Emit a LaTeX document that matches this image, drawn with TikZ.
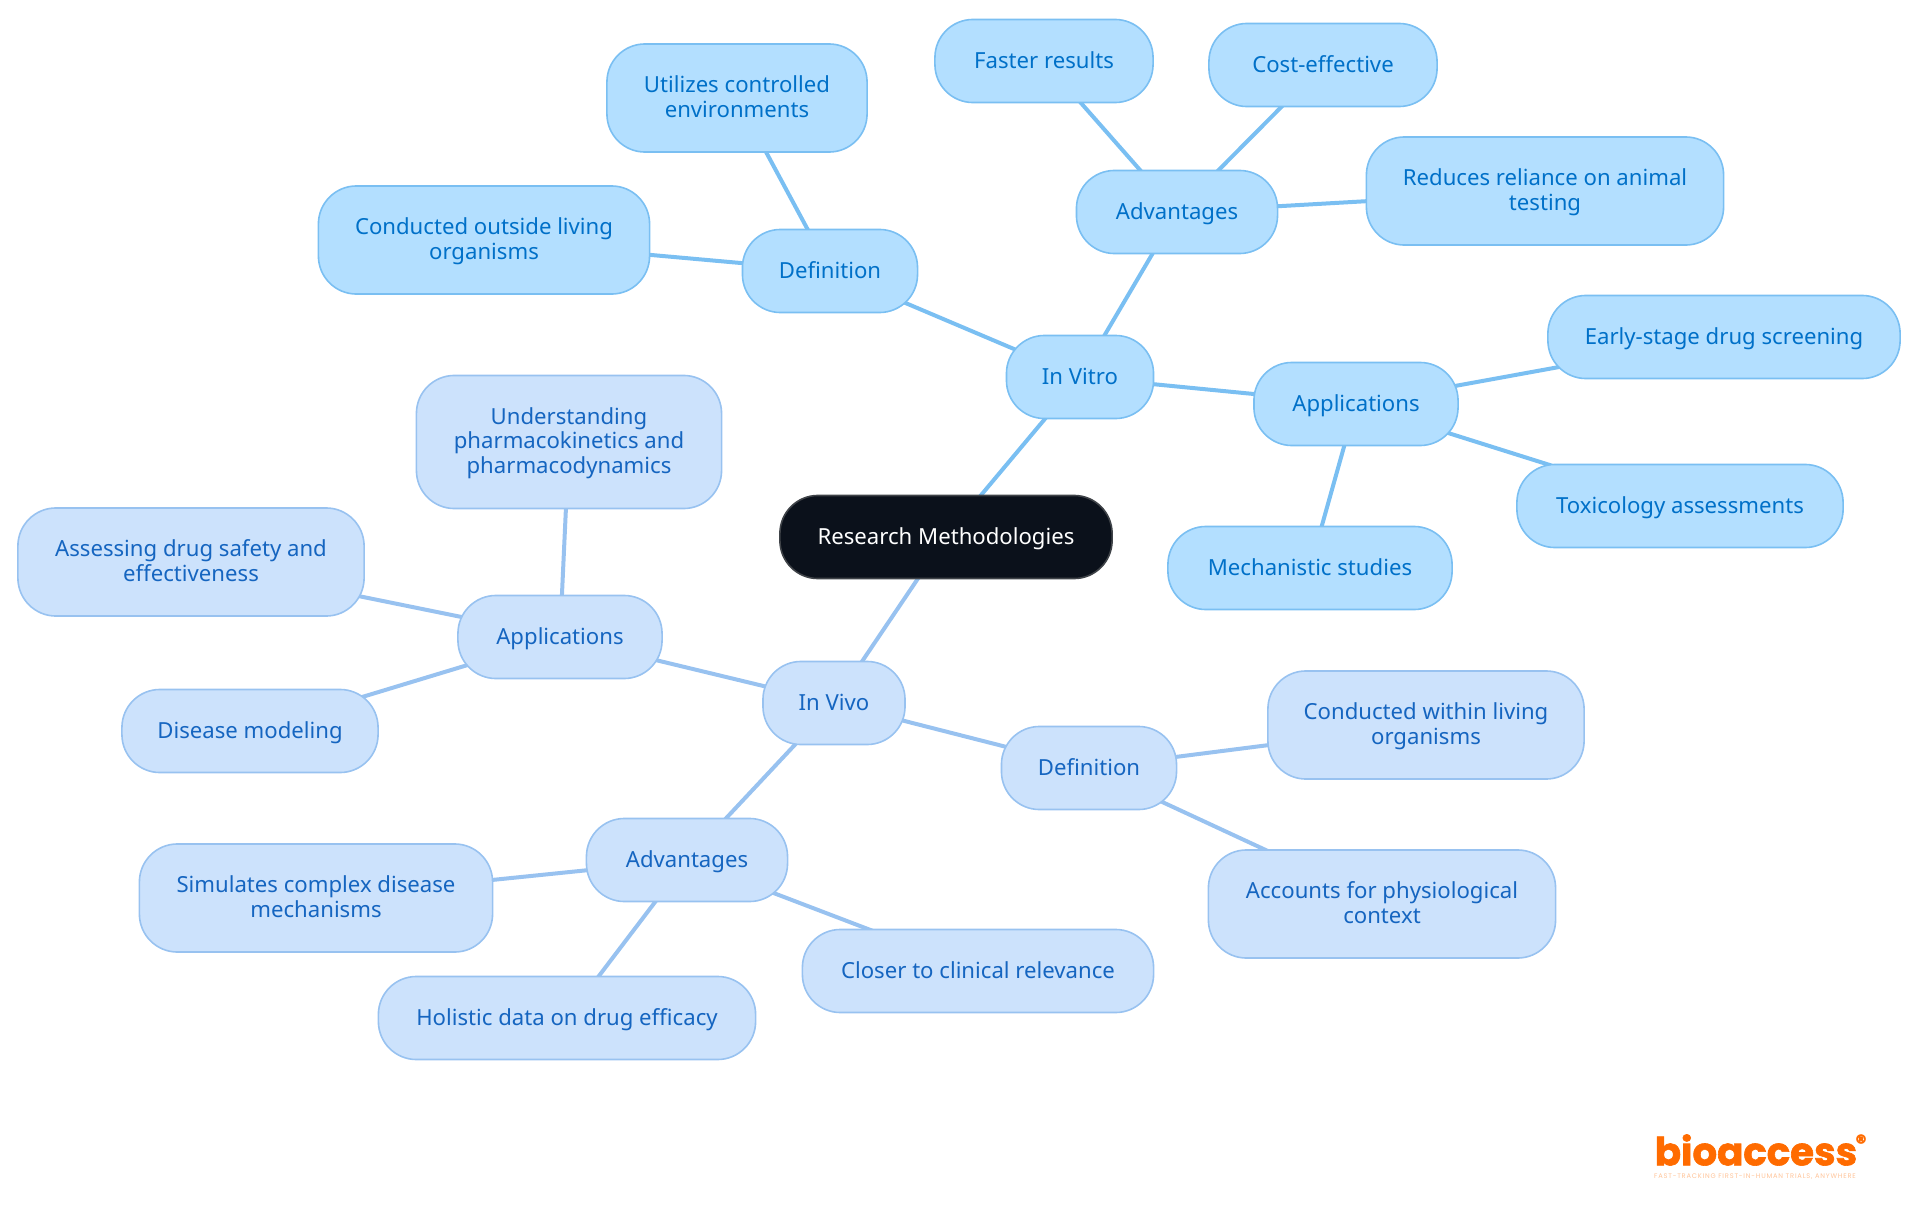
\documentclass[tikz,border=0pt]{standalone}
\usepackage{fontspec}
\setmainfont{Noto Sans}
\newfontfamily\logofont[BoldFeatures={FakeBold=1.6}]{Poppins}
\newfontfamily\tagfont[LetterSpace=12]{Poppins}
\usetikzlibrary{backgrounds}
\definecolor{vitrofill}{HTML}{B3DFFF}
\definecolor{vitroline}{HTML}{7ABFF2}
\definecolor{vitrotext}{HTML}{0070C8}
\definecolor{vivofill}{HTML}{CCE2FC}
\definecolor{vivoline}{HTML}{98C2F0}
\definecolor{vivotext}{HTML}{1565C0}
\definecolor{rootfill}{HTML}{0B111B}
\definecolor{logoorange}{HTML}{FF6B00}
\begin{document}
\begin{tikzpicture}[x=0.01cm,y=-0.01cm]

% definitions
\tikzstyle{box} = [rectangle, rounded corners=0.38cm, minimum height=0.83cm, inner sep=0pt, align=center, line width=0.016cm, font=\fontsize{6.3}{7}\selectfont, execute at begin node={\rule{0pt}{6.2pt}}, execute at end node={\rule[-2.1pt]{0pt}{2.1pt}}]
\tikzstyle{twoline} = [minimum height=1.08cm, execute at begin node={\rule{0pt}{13pt}}]
\tikzstyle{threeline} = [minimum height=1.33cm, execute at begin node={\rule{0pt}{20pt}}]
\tikzstyle{rootbox} = [box, draw=gray!45!rootfill, fill=rootfill, text=white]
\tikzstyle{vitrobox} = [box, draw=vitroline, fill=vitrofill, text=vitrotext]
\tikzstyle{vivobox} = [box, draw=vivoline, fill=vivofill, text=vivotext]

\tikzstyle{vitrolink} = [draw=vitroline, line width=0.04cm]
\tikzstyle{vivolink} = [draw=vivoline, line width=0.04cm]

\useasboundingbox (0,0) rectangle (1920,1215);

% the graph
\node (root) [rootbox, minimum width=3.32cm] at (946,537) {Research Methodologies};

% in vitro
\node (vitro) [vitrobox, minimum width=1.47cm] at (1080,377) {In Vitro};
\node (vtdef) [vitrobox, minimum width=1.75cm] at (830,271) {Definition};
\node (vtdefa) [vitrobox, twoline, minimum width=2.60cm] at (737,98) {Utilizes controlled\\environments};
\node (vtdefb) [vitrobox, twoline, minimum width=3.31cm] at (484,240) {Conducted outside living\\organisms};
\node (vtadv) [vitrobox, minimum width=2.01cm] at (1177,212) {Advantages};
\node (vtadva) [vitrobox, minimum width=2.18cm] at (1044,61) {Faster results};
\node (vtadvb) [vitrobox, minimum width=2.28cm] at (1323,65) {Cost-effective};
\node (vtadvc) [vitrobox, twoline, minimum width=3.57cm] at (1545,191) {Reduces reliance on animal\\testing};
\node (vtapp) [vitrobox, minimum width=2.04cm] at (1356,404) {Applications};
\node (vtappa) [vitrobox, minimum width=3.52cm] at (1724,337) {Early-stage drug screening};
\node (vtappb) [vitrobox, minimum width=3.26cm] at (1680,506) {Toxicology assessments};
\node (vtappc) [vitrobox, minimum width=2.84cm] at (1310,568) {Mechanistic studies};

% in vivo
\node (vivo) [vivobox, minimum width=1.42cm] at (834,703) {In Vivo};
\node (vvapp) [vivobox, minimum width=2.04cm] at (560,637) {Applications};
\node (vvappa) [vivobox, threeline, minimum width=3.05cm] at (569,442) {Understanding\\pharmacokinetics and\\pharmacodynamics};
\node (vvappb) [vivobox, twoline, minimum width=3.46cm] at (191,562) {Assessing drug safety and\\effectiveness};
\node (vvappc) [vivobox, minimum width=2.56cm] at (250,731) {Disease modeling};
\node (vvadv) [vivobox, minimum width=2.01cm] at (687,860) {Advantages};
\node (vvadva) [vivobox, twoline, minimum width=3.53cm] at (316,898) {Simulates complex disease\\mechanisms};
\node (vvadvb) [vivobox, minimum width=3.77cm] at (567,1018) {Holistic data on drug efficacy};
\node (vvadvc) [vivobox, minimum width=3.51cm] at (978,971) {Closer to clinical relevance};
\node (vvdef) [vivobox, minimum width=1.75cm] at (1089,768) {Definition};
\node (vvdefa) [vivobox, twoline, minimum width=3.16cm] at (1426,725) {Conducted within living\\organisms};
\node (vvdefb) [vivobox, twoline, minimum width=3.47cm] at (1382,904) {Accounts for physiological\\context};

% logo
\node (logo) [inner sep=0pt, text=logoorange, font=\logofont\bfseries\fontsize{11}{12}\selectfont] at (1756,1150) {bioaccess};
\node (logoreg) [inner sep=0pt, text=logoorange, font=\logofont\bfseries\fontsize{6}{7}\selectfont] at (1861,1142) {®};
\node (logotag) [inner sep=0pt, text=logoorange!40, font=\tagfont\fontsize{1.9}{3}\selectfont] at (1755,1177) {FAST-TRACKING FIRST-IN-HUMAN TRIALS, ANYWHERE};

\begin{pgfonlayer}{background}
\draw [vitrolink] (root.center) -- (vitro.center);
\draw [vitrolink] (vitro.center) -- (vtdef.center);
\draw [vitrolink] (vtdef.center) -- (vtdefa.center);
\draw [vitrolink] (vtdef.center) -- (vtdefb.center);
\draw [vitrolink] (vitro.center) -- (vtadv.center);
\draw [vitrolink] (vtadv.center) -- (vtadva.center);
\draw [vitrolink] (vtadv.center) -- (vtadvb.center);
\draw [vitrolink] (vtadv.center) -- (vtadvc.center);
\draw [vitrolink] (vitro.center) -- (vtapp.center);
\draw [vitrolink] (vtapp.center) -- (vtappa.center);
\draw [vitrolink] (vtapp.center) -- (vtappb.center);
\draw [vitrolink] (vtapp.center) -- (vtappc.center);

\draw [vivolink] (root.center) -- (vivo.center);
\draw [vivolink] (vivo.center) -- (vvapp.center);
\draw [vivolink] (vvapp.center) -- (vvappa.center);
\draw [vivolink] (vvapp.center) -- (vvappb.center);
\draw [vivolink] (vvapp.center) -- (vvappc.center);
\draw [vivolink] (vivo.center) -- (vvadv.center);
\draw [vivolink] (vvadv.center) -- (vvadva.center);
\draw [vivolink] (vvadv.center) -- (vvadvb.center);
\draw [vivolink] (vvadv.center) -- (vvadvc.center);
\draw [vivolink] (vivo.center) -- (vvdef.center);
\draw [vivolink] (vvdef.center) -- (vvdefa.center);
\draw [vivolink] (vvdef.center) -- (vvdefb.center);
\end{pgfonlayer}

\end{tikzpicture}
\end{document}
